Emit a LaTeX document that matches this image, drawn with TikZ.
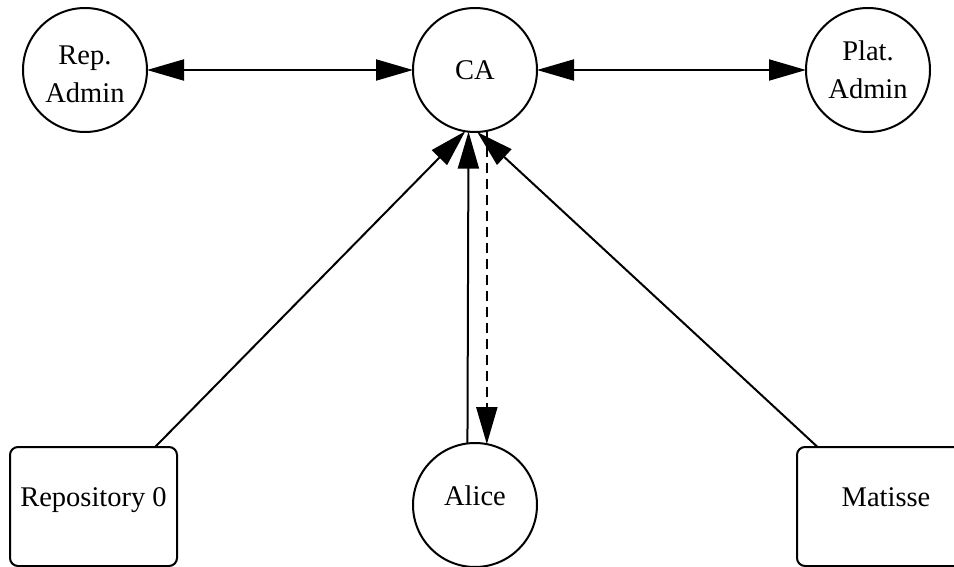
\documentclass[tikz,border=0pt]{standalone}
\usepackage{fontspec}
\setmainfont{Liberation Serif}
\usetikzlibrary{arrows.meta}
\tikzset{
  >={Triangle[length=37pt,width=21pt]},
  lbl/.style={font=\fontsize{28.5}{38}\selectfont, line width=2pt, outer sep=0pt, inner sep=0pt},
  circ/.style={lbl, draw, circle, minimum size=124pt, align=center},
  rbox/.style={lbl, draw, rectangle, rounded corners=8pt, minimum width=167pt, minimum height=119pt},
  low/.style={text height=20pt, text depth=20pt},
  conn/.style={line width=2pt},
  dashconn/.style={conn, dash pattern=on 10pt off 6pt}
}
\begin{document}
\begin{tikzpicture}[x=1pt,y=-1pt]
\useasboundingbox (0,0) rectangle (954,567);
\clip (0,0) rectangle (954,567);
\node[circ] (rep) at (85,70) {\rule{0pt}{27pt}Rep.\\Admin};
\node[circ] (ca) at (475,70) {CA};
\node[circ] (plat) at (868,70) {Plat.\\Admin};
\node[rbox, low] (repo) at (93.5,506.5) {Repository 0};
\node[circ, low] (alice) at (475,505) {Alice};
\node[rbox, low, minimum width=178pt] (mat) at (886,506.5) {Matisse};
\draw[conn, <->] (rep.east) -- (ca.west);
\draw[conn, <->] (ca.east) -- (plat.west);
\draw[conn, ->] (repo.44) -- (ca.261);
\draw[conn, ->] (alice.97) -- (ca.264);
\draw[conn, ->] (mat.139) -- (ca.272);
\draw[dashconn, ->] (ca.281) -- (alice.79);
\end{tikzpicture}
\end{document}
